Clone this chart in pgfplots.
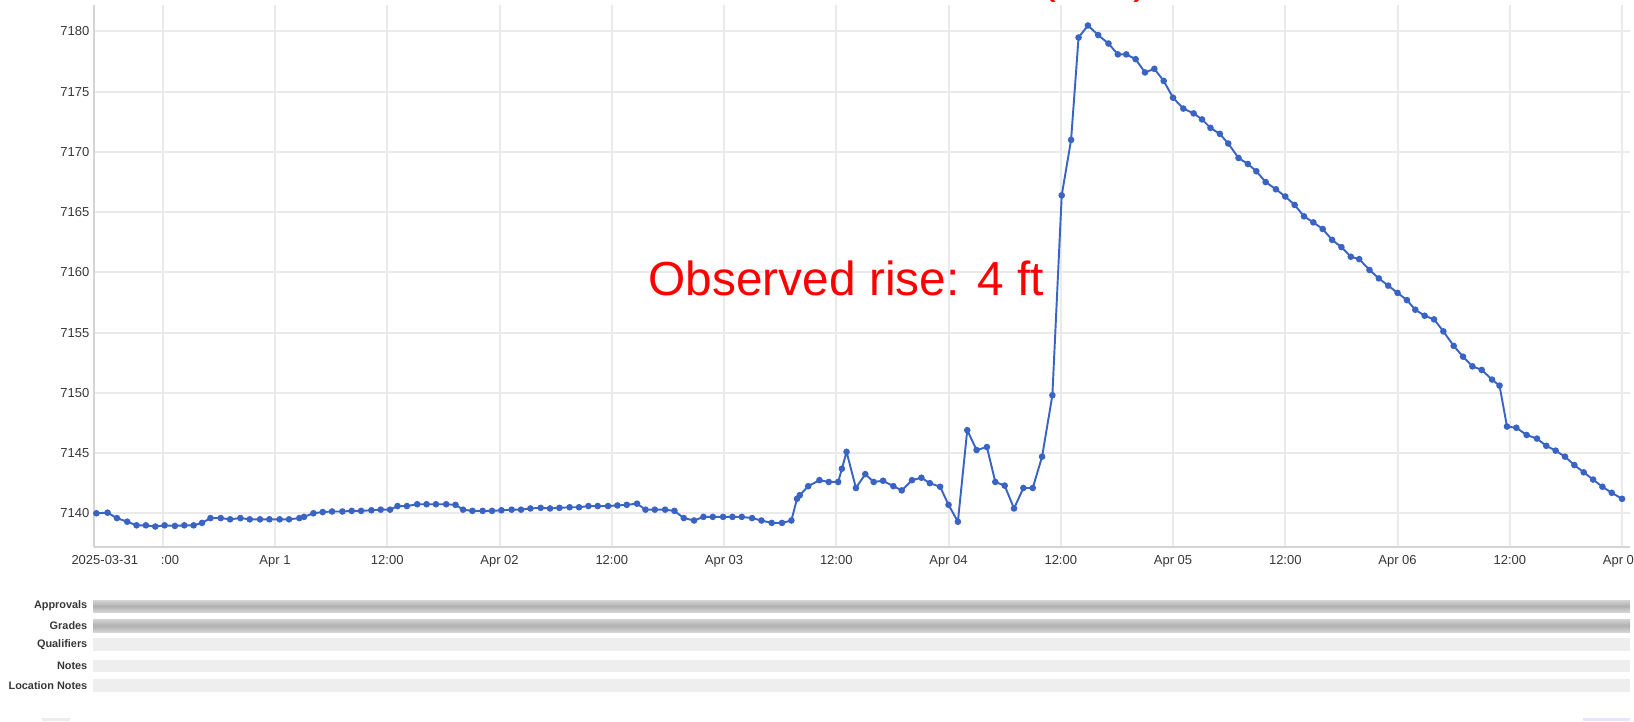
\documentclass[border=0pt]{standalone}
\usepackage{pgfplots}
\pgfplotsset{compat=1.18}
\usepackage{fontspec}
\setmainfont{Liberation Sans}

\definecolor{lvl}{RGB}{58,100,196}
\definecolor{gridc}{RGB}{234,234,234}
\definecolor{axc}{RGB}{212,212,212}
\definecolor{lbl}{RGB}{55,55,55}
\definecolor{barg}{RGB}{176,176,176}
\definecolor{barl}{RGB}{238,238,238}

% hours from Apr 1 00:00, water surface elevation (ft)
\pgfplotstableread{
h v
-19.1 7140.0
-17.9 7140.05
-16.9 7139.6
-15.8 7139.3
-14.8 7139.0
-13.8 7139.0
-12.8 7138.9
-11.8 7139.0
-10.7 7138.95
-9.7 7139.0
-8.7 7139.0
-7.8 7139.2
-6.9 7139.6
-5.8 7139.6
-4.8 7139.5
-3.7 7139.6
-2.7 7139.5
-1.6 7139.5
-0.6 7139.5
0.5 7139.5
1.5 7139.5
2.6 7139.6
3.1 7139.7
4.1 7140.0
5.1 7140.1
6.1 7140.15
7.2 7140.15
8.2 7140.2
9.2 7140.2
10.3 7140.25
11.3 7140.3
12.3 7140.3
13.1 7140.6
14.1 7140.6
15.2 7140.75
16.2 7140.75
17.2 7140.75
18.3 7140.75
19.3 7140.7
20.1 7140.3
21.1 7140.2
22.2 7140.2
23.2 7140.2
24.2 7140.25
25.3 7140.3
26.3 7140.3
27.3 7140.4
28.4 7140.45
29.4 7140.4
30.4 7140.45
31.5 7140.5
32.5 7140.5
33.5 7140.6
34.5 7140.6
35.6 7140.6
36.6 7140.65
37.6 7140.7
38.7 7140.8
39.6 7140.3
40.6 7140.3
41.7 7140.3
42.7 7140.2
43.7 7139.6
44.8 7139.4
45.8 7139.7
46.8 7139.7
47.9 7139.7
48.9 7139.7
49.9 7139.7
51.0 7139.6
52.0 7139.4
53.1 7139.2
54.2 7139.2
55.2 7139.4
55.8 7141.2
56.1 7141.5
57.0 7142.25
58.2 7142.75
59.2 7142.6
60.2 7142.6
60.6 7143.7
61.1 7145.1
62.1 7142.1
63.1 7143.25
64.0 7142.6
65.0 7142.7
66.1 7142.25
67.0 7141.9
68.1 7142.75
69.1 7142.95
70.0 7142.5
71.1 7142.2
72.0 7140.7
73.0 7139.3
74.0 7146.9
75.0 7145.25
76.1 7145.5
77.0 7142.6
78.0 7142.3
79.0 7140.4
80.0 7142.1
81.0 7142.1
82.0 7144.7
83.1 7149.8
84.1 7166.4
85.1 7171.0
85.9 7179.5
86.9 7180.5
88.0 7179.7
89.1 7179.0
90.1 7178.1
91.0 7178.1
92.0 7177.7
93.0 7176.6
94.0 7176.9
95.0 7175.9
96.0 7174.5
97.1 7173.6
98.2 7173.2
99.1 7172.7
100.0 7172.0
101.0 7171.5
101.9 7170.7
103.0 7169.5
104.0 7169.0
104.9 7168.4
105.9 7167.5
107.0 7166.9
108.0 7166.3
109.0 7165.6
110.0 7164.65
111.0 7164.15
112.0 7163.6
113.0 7162.7
114.0 7162.1
115.0 7161.3
115.9 7161.1
117.0 7160.2
118.0 7159.5
119.0 7158.9
120.0 7158.3
121.0 7157.7
121.9 7156.9
122.9 7156.4
123.9 7156.1
124.9 7155.1
126.0 7153.9
127.0 7153.0
128.0 7152.2
129.0 7151.9
130.1 7151.1
130.9 7150.6
131.7 7147.2
132.7 7147.1
133.8 7146.5
134.9 7146.2
135.9 7145.6
136.9 7145.2
137.9 7144.7
138.9 7144.0
139.9 7143.4
140.9 7142.8
141.9 7142.2
142.9 7141.7
144.0 7141.2
}\stage

\begin{document}
\begin{tikzpicture}
\begin{axis}[
  at={(0.94cm,1.74cm)}, anchor=south west,
  scale only axis, width=15.36cm, height=5.42cm,
  xmin=-19.35, xmax=144.85, ymin=7137.2, ymax=7182.2,
  axis x line*=bottom, axis y line*=left,
  axis line style={axc, line width=0.2mm},
  grid=major, major grid style={gridc, line width=0.2mm},
  major tick length=0pt,
  xtick={-12,0,...,144},
  xticklabels={\phantom{12}:00, Apr 1, 12:00, Apr 02, 12:00, Apr 03, 12:00, Apr 04, 12:00, Apr 05, 12:00, Apr 06, 12:00, Apr 07},
  extra x ticks={-18.2}, extra x tick labels={2025-03-31},
  extra x tick style={grid=none},
  ytick={7140,7145,...,7180},
  /pgf/number format/1000 sep={},
  /pgf/number format/assume math mode=true,
  tick label style={font=\fontsize{3.7}{4}\selectfont, text=lbl, inner sep=0pt},
  xticklabel style={yshift=-0.8mm},
  yticklabel style={xshift=-0.4mm},
]
\addplot[lvl, line width=0.55pt, mark=*, mark size=0.65pt, mark options={lvl}] table[x=h, y=v] {\stage};
\end{axis}

\node[anchor=base west, text=red, font=\fontsize{13.6}{16}\selectfont, inner sep=0] at (6.48,4.26) {Observed rise: 4 ft};
\node[anchor=base east, text=red, font=\fontsize{13.6}{16}\selectfont, inner sep=0] at (11.50,7.28) {(est.)};

% data-quality strips under the plot
\shade[top color=barg!55, bottom color=barg!55, middle color=barg] (0.93,1.09) rectangle (16.30,1.21);
\shade[top color=barg!55, bottom color=barg!55, middle color=barg] (0.93,0.89) rectangle (16.30,1.02);
\fill[barl] (0.93,0.70) rectangle (16.30,0.83);
\fill[barl] (0.93,0.49) rectangle (16.30,0.61);
\fill[barl] (0.93,0.29) rectangle (16.30,0.42);
\begin{scope}[every node/.style={anchor=east, font=\fontsize{3.1}{3.5}\selectfont\bfseries, text=lbl, inner sep=0}]
\node at (0.88,1.15) {Approvals};
\node at (0.88,0.955) {Grades};
\node at (0.88,0.765) {Qualifiers};
\node at (0.88,0.55) {Notes};
\node at (0.88,0.355) {Location Notes};
\end{scope}
\fill[gray!15] (0.42,0) rectangle (0.70,0.03);
\fill[blue!10] (15.83,0) rectangle (16.30,0.03);

\pgfresetboundingbox
\path[use as bounding box] (0,0) rectangle (16.34,7.21);
\end{tikzpicture}
\end{document}
